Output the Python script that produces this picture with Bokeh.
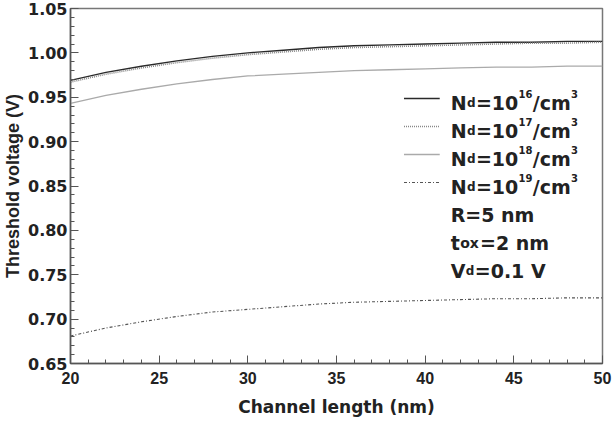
from bokeh.plotting import figure
from bokeh.models import Range1d, SingleIntervalTicker, NumeralTickFormatter
from bokeh.core.properties import value
from bokeh.embed import file_html
from bokeh.resources import INLINE

# Threshold voltage vs. channel length for four doping levels
channel_length = [20, 22, 24, 26, 28, 30, 32, 34, 36, 38, 40, 42, 44, 46, 48, 50]
vth_nd16 = [0.969, 0.978, 0.985, 0.991, 0.996, 1.000, 1.003, 1.006, 1.008, 1.009,
            1.010, 1.011, 1.012, 1.012, 1.013, 1.013]
vth_nd17 = [0.967, 0.976, 0.983, 0.989, 0.994, 0.998, 1.001, 1.004, 1.006, 1.007,
            1.008, 1.009, 1.010, 1.011, 1.011, 1.012]
vth_nd18 = [0.943, 0.952, 0.959, 0.965, 0.970, 0.974, 0.976, 0.978, 0.980, 0.981,
            0.982, 0.983, 0.984, 0.984, 0.985, 0.985]
vth_nd19 = [0.681, 0.690, 0.697, 0.703, 0.708, 0.711, 0.714, 0.717, 0.719, 0.720,
            0.721, 0.722, 0.723, 0.723, 0.724, 0.724]

nd_exponents = ["16", "17", "18", "19"]
param_r = "R=5 nm"
param_tox = ("t", "ox", "=2 nm")
param_vd = ("V", "d", "=0.1 V")

X_RANGE = (20, 50)
Y_RANGE = (0.65, 1.05)

# frame placement in canvas pixels
W, H = 612, 422
F_LEFT, F_RIGHT, F_TOP, F_BOTTOM = 66, 602, 8, 363

p = figure(width=W, height=H, output_backend="svg", toolbar_location=None,
           x_range=Range1d(*X_RANGE), y_range=Range1d(*Y_RANGE),
           min_border_left=F_LEFT, min_border_right=W - F_RIGHT,
           min_border_top=F_TOP, min_border_bottom=H - F_BOTTOM)
p.background_fill_color = "white"
p.border_fill_color = "white"
p.outline_line_color = "#777777"
p.outline_line_width = 1.5
p.xgrid.visible = False
p.ygrid.visible = False

TXT = "#222222"
for ax in (p.xaxis[0], p.yaxis[0]):
    ax.axis_line_color = "#555555"
    ax.axis_line_width = 1.5
    ax.major_tick_line_color = "#555555"
    ax.minor_tick_line_color = "#555555"
    ax.major_tick_in = 8
    ax.major_tick_out = 0
    ax.minor_tick_in = 4
    ax.minor_tick_out = 0
    ax.major_label_text_color = TXT
    ax.major_label_text_font_style = "bold"
    ax.axis_label_text_color = TXT
    ax.axis_label_text_font_style = "bold"

p.xaxis.ticker = SingleIntervalTicker(interval=5, num_minor_ticks=5)
p.xaxis.major_label_text_font = "Liberation Sans"
p.xaxis.major_label_text_font_size = "16px"
p.xaxis.major_label_standoff = 8
p.xaxis.axis_label = "Channel length (nm)"
p.xaxis.axis_label_text_font = "DejaVu Sans"
p.xaxis.axis_label_text_font_size = "17px"
p.xaxis.axis_label_standoff = 10

p.yaxis.ticker = SingleIntervalTicker(interval=0.05, num_minor_ticks=5)
p.yaxis.formatter = NumeralTickFormatter(format="0.00")
p.yaxis.major_label_text_font = "DejaVu Sans"
p.yaxis.major_label_text_font_size = "16px"
p.yaxis.major_label_standoff = 3
p.yaxis.axis_label = "Threshold voltage (V)"
p.yaxis.axis_label_text_font = "Liberation Sans"
p.yaxis.axis_label_text_font_size = "18px"
p.yaxis.axis_label_standoff = 2

styles = [
    dict(line_color="#2a2a2a", line_width=1.4),
    dict(line_color="#888888", line_width=1.6, line_dash="1 1"),
    dict(line_color="#aaaaaa", line_width=1.3),
    dict(line_color="#555555", line_width=1.1, line_dash="3 2 1 2"),
]
for ys, st in zip([vth_nd16, vth_nd17, vth_nd18, vth_nd19], styles):
    p.line(channel_length, ys, **st)


# ---- legend and parameter block, laid out in pixels ----
def to_x(px):
    return X_RANGE[0] + (px - F_LEFT) * (X_RANGE[1] - X_RANGE[0]) / (F_RIGHT - F_LEFT)


def to_y(py):
    return Y_RANGE[1] - (py - F_TOP) * (Y_RANGE[1] - Y_RANGE[0]) / (F_BOTTOM - F_TOP)


# DejaVu Sans Bold advance widths (em)
ADV = {"N": .837, "d": .716, "=": .838, "/": .365, "c": .593, "m": 1.042, "R": .770,
       " ": .348, "n": .712, "t": .478, "o": .687, "x": .712, "V": .774, ".": .380}
for dgt in "0123456789":
    ADV[dgt] = .696


def rich(pieces, x0, baseline):
    x = x0
    for txt, size, rise in pieces:
        p.text(x=[to_x(x)], y=[to_y(baseline - rise)], text=[txt],
               text_font=value("DejaVu Sans"), text_font_style="bold",
               text_font_size=value(f"{size}px"), text_color=TXT,
               text_align="left", text_baseline="alphabetic")
        x += sum(ADV.get(ch, .7) for ch in txt) * size + 0.5


MAIN, SUB, SUP = 19, 12, 10
TEXT_X, SAMPLE_X0, SAMPLE_X1 = 449, 402, 438
ROW0, ROW_STEP = 102, 28

for i, (ex, st) in enumerate(zip(nd_exponents, styles)):
    base = ROW0 + ROW_STEP * i
    p.line([to_x(SAMPLE_X0), to_x(SAMPLE_X1)], [to_y(base - 4)] * 2, **st)
    rich([("N", MAIN, 0), ("d", SUB, 0), ("=10", MAIN, 0), (ex, SUP, 8.5),
          ("/cm", MAIN, 0), ("3", SUP, 8.5)], TEXT_X, base)

rich([(param_r, MAIN, 0)], TEXT_X, ROW0 + ROW_STEP * 4)
rich([(param_tox[0], MAIN, 0), (param_tox[1], 14, 0), (param_tox[2], MAIN, 0)],
     TEXT_X, ROW0 + ROW_STEP * 5)
rich([(param_vd[0], MAIN, 0), (param_vd[1], SUB, 0), (param_vd[2], MAIN, 0)],
     TEXT_X, ROW0 + ROW_STEP * 6)

open("out.html", "w").write(file_html(p, INLINE))
